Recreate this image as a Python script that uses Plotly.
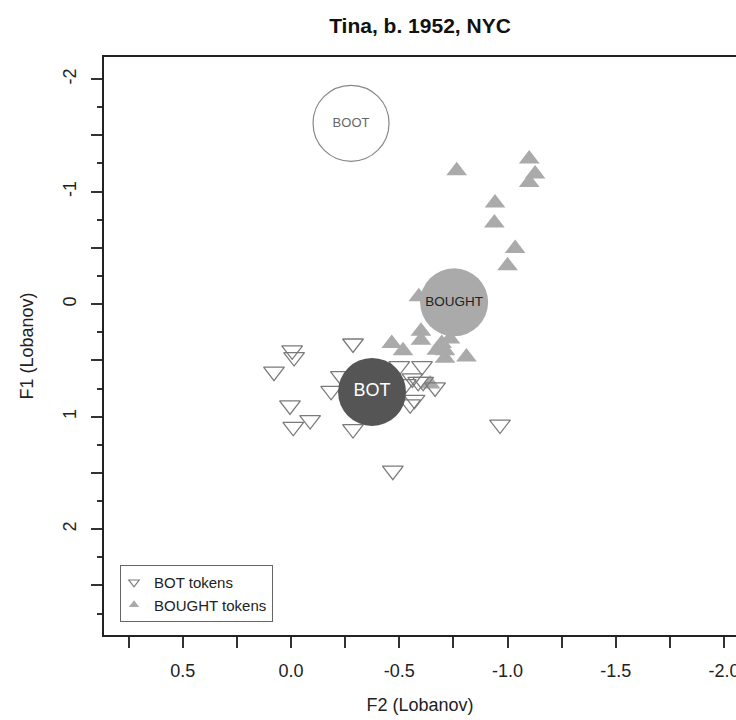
import plotly.graph_objects as go

# ---- data (Lobanov-normalised F2 / F1) ----
bot_f2 = [-0.005, -0.014, 0.079, -0.286, 0.005, -0.010, -0.088, -0.185, -0.230, -0.286,
          -0.470, -0.965, -0.500, -0.605, -0.560, -0.587, -0.610, -0.665, -0.570, -0.550, -0.530]
bot_f1 = [0.41, 0.47, 0.60, 0.35, 0.90, 1.09, 1.03, 0.77, 0.64, 1.11,
          1.48, 1.07, 0.55, 0.55, 0.66, 0.69, 0.69, 0.74, 0.85, 0.89, 0.71]

bought_f2 = [-0.765, -1.100, -1.127, -1.100, -0.942, -0.939, -1.035, -1.000, -0.590, -0.600,
             -0.600, -0.465, -0.517, -0.696, -0.734, -0.711, -0.711, -0.810, -0.673, -0.642]
bought_f1 = [-1.185, -1.29, -1.156, -1.08, -0.898, -0.72, -0.495, -0.34, -0.065, 0.24,
             0.32, 0.35, 0.415, 0.35, 0.31, 0.415, 0.48, 0.47, 0.41, 0.71]

mean_labels = ["BOOT", "BOT", "BOUGHT"]
mean_f2 = [-0.277, -0.374, -0.753]
mean_f1 = [-1.607, 0.780, -0.016]

x_ticks = [0.75, 0.5, 0.25, 0.0, -0.25, -0.5, -0.75, -1.0, -1.25, -1.5, -1.75, -2.0]
x_ticktext = ["", "0.5", "", "0.0", "", "-0.5", "", "-1.0", "", "-1.5", "", "-2.0"]
y_ticks = [-2.0, -1.5, -1.0, -0.5, 0.0, 0.5, 1.0, 1.5, 2.0, 2.5]
y_ticktext = ["-2", "", "-1", "", "0", "", "1", "", "2", ""]
y_minor = [-1.75, -1.25, -0.75, -0.25, 0.25, 0.75, 1.25, 1.75, 2.25, 2.75]

FONT = "Liberation Sans, Arial, sans-serif"
TOK_GREY = "#aaaaaa"
OUT_GREY = "#7a7a7a"

fig = go.Figure()

# BOUGHT tokens (filled up triangles)
fig.add_trace(go.Scatter(
    x=bought_f2, y=bought_f1, mode="markers", showlegend=False, hoverinfo="skip",
    marker=dict(symbol="triangle-up", size=18, color=TOK_GREY, line=dict(width=0))))

# BOT tokens (open down triangles)
fig.add_trace(go.Scatter(
    x=bot_f2, y=bot_f1, mode="markers", showlegend=False, hoverinfo="skip",
    marker=dict(symbol="triangle-down-open", size=18, color=OUT_GREY, line=dict(width=1.3))))

# means
fig.add_trace(go.Scatter(
    x=[mean_f2[0]], y=[mean_f1[0]], mode="markers+text", text=[mean_labels[0]],
    textposition="middle center", showlegend=False, hoverinfo="skip",
    textfont=dict(family=FONT, size=13, color="#666666"),
    marker=dict(symbol="circle", size=76, color="white", line=dict(width=1.2, color="#888888"))))
fig.add_trace(go.Scatter(
    x=[mean_f2[1]], y=[mean_f1[1]], mode="markers+text", text=[mean_labels[1]],
    textposition="middle center", showlegend=False, hoverinfo="skip",
    textfont=dict(family=FONT, size=18, color="white"),
    marker=dict(symbol="circle", size=68, color="#555555", line=dict(width=0))))
fig.add_trace(go.Scatter(
    x=[mean_f2[2]], y=[mean_f1[2]], mode="markers+text", text=[mean_labels[2]],
    textposition="middle center", showlegend=False, hoverinfo="skip",
    textfont=dict(family=FONT, size=13.5, color="#222222"),
    marker=dict(symbol="circle", size=68, color=TOK_GREY, line=dict(width=0))))

# legend entries
fig.add_trace(go.Scatter(
    x=[None], y=[None], mode="markers", name="BOT tokens",
    marker=dict(symbol="triangle-down-open", size=9, color=OUT_GREY, line=dict(width=1.2))))
fig.add_trace(go.Scatter(
    x=[None], y=[None], mode="markers", name="BOUGHT tokens",
    marker=dict(symbol="triangle-up", size=9, color=TOK_GREY, line=dict(width=0))))

fig.update_layout(
    width=736, height=720,
    margin=dict(l=104, r=0, t=57, b=85, autoexpand=False),
    paper_bgcolor="white", plot_bgcolor="white",
    font=dict(family=FONT, size=18, color="#222222"),
    title=dict(text="<b>Tina, b. 1952, NYC</b>", x=420 / 736, xanchor="center",
               y=1 - 26 / 720, yanchor="middle", yref="container",
               font=dict(family=FONT, size=21, color="#111111")),
    showlegend=True,
    legend=dict(x=(120 - 104) / 632, xanchor="left", y=(635 - 622) / 578, yanchor="bottom",
                bgcolor="white", bordercolor="#666666", borderwidth=1,
                font=dict(family=FONT, size=15, color="#222222"),
                itemwidth=30, tracegroupgap=0, indentation=-7),
    hovermode=False,
)

fig.update_xaxes(
    range=[0.864, -2.055], showgrid=False, zeroline=False, automargin=False,
    showline=True, linecolor="#222222", linewidth=1.6, mirror=True,
    tickmode="array", tickvals=x_ticks, ticktext=x_ticktext,
    ticks="outside", ticklen=11, tickwidth=1.5, tickcolor="#333333",
    ticklabelstandoff=8, ticklabeloverflow="allow",
    tickfont=dict(family=FONT, size=18, color="#222222"),
    title=dict(text="F2 (Lobanov)", standoff=18, font=dict(family=FONT, size=18, color="#222222")),
)
fig.update_yaxes(
    range=[2.94, -2.196], showgrid=False, zeroline=False, automargin=False,
    showline=True, linecolor="#222222", linewidth=1.6, mirror=False,
    tickmode="array", tickvals=y_ticks, ticktext=y_ticktext,
    ticks="outside", ticklen=11, tickwidth=1.5, tickcolor="#333333",
    tickangle=-90, ticklabelstandoff=8,
    tickfont=dict(family=FONT, size=18, color="#222222"),
    minor=dict(tickvals=y_minor, ticks="outside", ticklen=5, tickwidth=1.5, tickcolor="#333333"),
    title=dict(text="F1 (Lobanov)", standoff=22, font=dict(family=FONT, size=18, color="#222222")),
)

fig.write_html("out.html")
